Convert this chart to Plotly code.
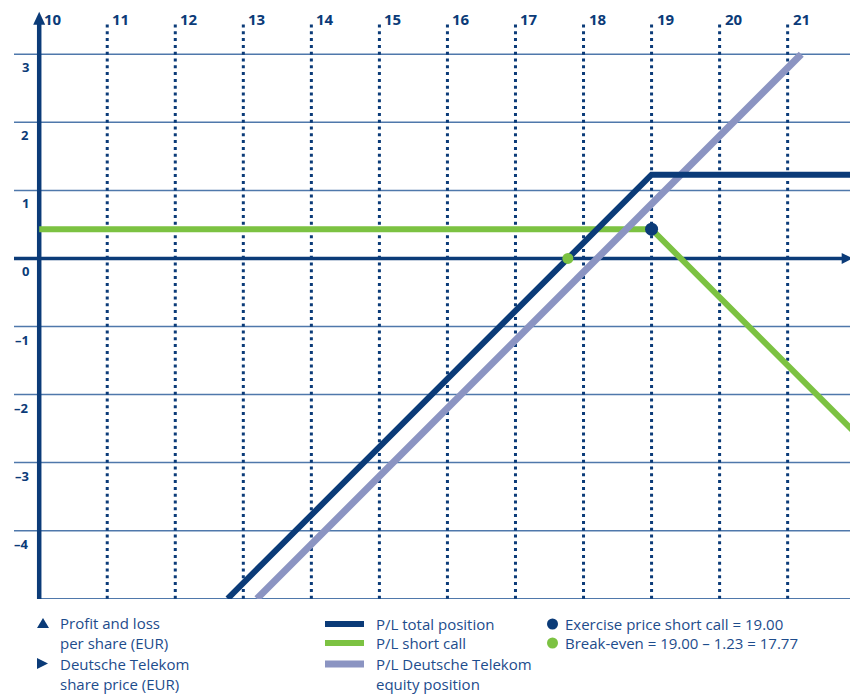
import plotly.graph_objects as go

# ---- data ----
x_ticks = [10, 11, 12, 13, 14, 15, 16, 17, 18, 19, 20, 21]
x_dotted = [11, 12, 13, 14, 15, 16, 17, 18, 19, 20, 21, 22]
y_ticks = [-4, -3, -2, -1, 0, 1, 2, 3]
y_labels = ["–4", "–3", "–2", "–1", "0", "1", "2", "3"]

total_x = [12.77, 19.0, 22.0]
total_y = [-5.0, 1.23, 1.23]
call_x = [10.0, 19.0, 22.0]
call_y = [0.43, 0.43, -2.57]
equity_x = [13.2, 21.2]
equity_y = [-5.0, 3.0]
exercise_x, exercise_y = [19.0], [0.43]
breakeven_x, breakeven_y = [17.77], [0.0]

NAVY = "#0b3b78"
GRID = "#4f78ab"
GREEN = "#7cc242"
PURPLE = "#8b94c2"
TEXT = "#1d4c8c"
FONT = "Open Sans"

OFF = 8  # page body margin in the browser
W, H = 858 - OFF, 694 - OFF
L, R, T, B = 14 - OFF, 0, 10 - OFF, 95
PW, PH = W - L - R, H - T - B
X0PX, SX = 39.2 - OFF, 68.04        # pixel of x=10, pixels per unit
Y3PX, SY = 54.3 - OFF, 68.05        # pixel of y=3, pixels per unit
xmin = 10 - (X0PX - L) / SX
xmax = xmin + PW / SX
ymax = 3 + (Y3PX - T) / SY
ymin = ymax - PH / SY


def px2paper(px, py):
    # px, py given in reference screenshot pixels
    px, py = px - OFF, py - OFF
    return (px - L) / PW, (H - B - py) / PH


def ypx(py):
    return 3 + (Y3PX - (py - OFF)) / SY


def xpx(px):
    return 10 + ((px - OFF) - X0PX) / SX


fig = go.Figure()
fig.add_trace(go.Scatter(x=call_x, y=call_y, mode="lines",
                         line=dict(color=GREEN, width=6), hoverinfo="skip"))
fig.add_trace(go.Scatter(x=equity_x, y=equity_y, mode="lines",
                         line=dict(color=PURPLE, width=7), hoverinfo="skip"))
fig.add_trace(go.Scatter(x=total_x, y=total_y, mode="lines",
                         line=dict(color=NAVY, width=6), hoverinfo="skip"))
fig.add_trace(go.Scatter(x=exercise_x, y=exercise_y, mode="markers",
                         marker=dict(color=NAVY, size=13), hoverinfo="skip"))
fig.add_trace(go.Scatter(x=breakeven_x, y=breakeven_y, mode="markers",
                         marker=dict(color=GREEN, size=11), hoverinfo="skip"))

shapes = []
for yv in y_ticks:
    if yv == 0:
        continue
    shapes.append(dict(type="line", xref="x", yref="y", x0=xmin, x1=xmax, y0=yv, y1=yv,
                       line=dict(color=GRID, width=1.5), layer="below"))
shapes.append(dict(type="line", xref="x", yref="y", x0=10, x1=xmax, y0=-5, y1=-5,
                   line=dict(color=GRID, width=1.5), layer="below"))
ytop_dot = ypx(24)
for xv in x_dotted:
    shapes.append(dict(type="line", xref="x", yref="y", x0=xv, x1=xv, y0=-5, y1=ytop_dot,
                       line=dict(color=NAVY, width=3, dash="3px,3.8px"), layer="below"))
# y axis with arrow
ytip = ypx(11.7)
shapes.append(dict(type="line", xref="x", yref="y", x0=10, x1=10, y0=-5.01, y1=ytip - 10 / SY,
                   line=dict(color=NAVY, width=4.5), layer="below"))
shapes.append(dict(type="path", xref="x", yref="y", xsizemode="pixel", ysizemode="pixel",
                   xanchor=10, yanchor=ytip, path="M -6,-13 L 6,-13 L 0,0 Z",
                   fillcolor=NAVY, line=dict(width=0), layer="below"))
# x axis with arrow
xtip = xpx(852.7)
shapes.append(dict(type="line", xref="x", yref="y", x0=xmin, x1=xtip - 9 / SX, y0=0, y1=0,
                   line=dict(color=NAVY, width=3.5), layer="below"))
shapes.append(dict(type="path", xref="x", yref="y", xsizemode="pixel", ysizemode="pixel",
                   xanchor=xtip, yanchor=0, path="M -11,-5.5 L -11,5.5 L 0,0 Z",
                   fillcolor=NAVY, line=dict(width=0), layer="below"))

annotations = []
for xv in x_ticks:
    annotations.append(dict(x=xv, y=ypx(18.7), xref="x", yref="y", text=f"<b>{xv}</b>",
                            showarrow=False, xanchor="left", yanchor="middle", xshift=3,
                            font=dict(family=FONT, size=15, color=NAVY)))
for yv, lab in zip(y_ticks, y_labels):
    annotations.append(dict(x=xpx(31), y=yv - 13 / SY, xref="x", yref="y",
                            text=f"<b>{lab}</b>", showarrow=False, xanchor="right", yanchor="middle",
                            font=dict(family=FONT, size=13, color=NAVY)))


def ltext(px, py, txt):
    xp, yp = px2paper(px, py)
    annotations.append(dict(x=xp, y=yp, xref="paper", yref="paper", text=txt, showarrow=False,
                            xanchor="left", yanchor="middle",
                            font=dict(family=FONT, size=15, color=TEXT)))


ltext(58, 623, "Profit and loss")
ltext(58, 643, "per share (EUR)")
ltext(58, 664, "Deutsche Telekom")
ltext(58, 684, "share price (EUR)")
ltext(374, 624, "P/L total position")
ltext(374, 643, "P/L short call")
ltext(374, 664, "P/L Deutsche Telekom")
ltext(374, 684, "equity position")
ltext(563, 624, "Exercise price short call = 19.00")
ltext(563, 643, "Break-even = 19.00 – 1.23 = 17.77")


def tri(points, color):
    p = " L ".join(f"{a},{b}" for a, b in [px2paper(x, y) for x, y in points])
    shapes.append(dict(type="path", xref="paper", yref="paper", path=f"M {p} Z",
                       fillcolor=color, line=dict(width=0)))


tri([(37, 628), (49, 628), (43, 618)], NAVY)
tri([(37, 658), (37, 669), (48, 663.5)], NAVY)

for py, col, w in [(624, NAVY, 6), (643, GREEN, 6), (664, PURPLE, 7)]:
    xa, ya = px2paper(325, py)
    xb, _ = px2paper(364, py)
    shapes.append(dict(type="line", xref="paper", yref="paper", x0=xa, x1=xb, y0=ya, y1=ya,
                       line=dict(color=col, width=w)))

for py, col in [(624, NAVY), (643, GREEN)]:
    xc, yc = px2paper(552.5, py)
    r = 5.5
    shapes.append(dict(type="circle", xref="paper", yref="paper",
                       x0=xc - r / PW, x1=xc + r / PW, y0=yc - r / PH, y1=yc + r / PH,
                       fillcolor=col, line=dict(width=0)))

fig.update_layout(
    width=W, height=H,
    margin=dict(l=L, r=R, t=T, b=B),
    paper_bgcolor="white", plot_bgcolor="white",
    showlegend=False,
    xaxis=dict(range=[xmin, xmax], visible=False, fixedrange=True),
    yaxis=dict(range=[ymin, ymax], visible=False, fixedrange=True),
    shapes=shapes, annotations=annotations,
)
fig.write_html("out.html")
